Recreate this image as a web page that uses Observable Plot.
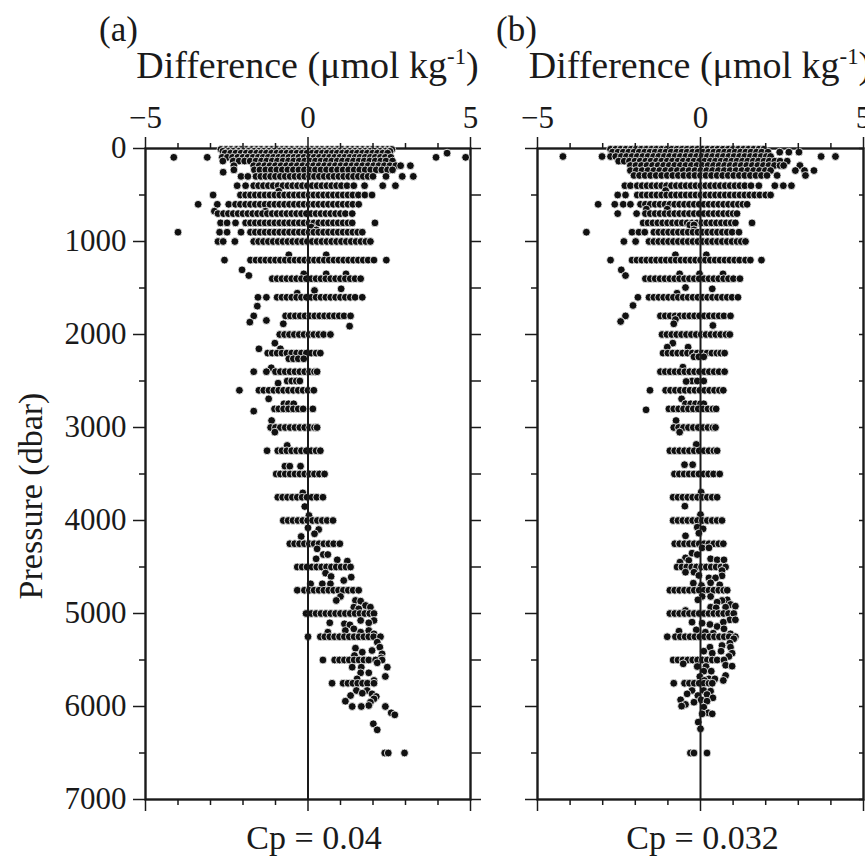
<!DOCTYPE html>
<html>
<head>
<meta charset="utf-8">
<script src="https://cdn.jsdelivr.net/npm/d3@7"></script>
<script src="https://cdn.jsdelivr.net/npm/@observablehq/plot@0.6"></script>
<style>
  body { margin: 0; background: #fff; }
  #wrap { position: relative; width: 865px; height: 857px; overflow: hidden; background: #fff; }
  .svgbox { position: absolute; top: 0; }
  .title { position: absolute; top: 46px; transform: translateX(-50%); white-space: nowrap;
           font-family: "Liberation Serif", "Times New Roman", serif; font-size: 38px; line-height: 38px; color: #1a1a1a; z-index: 2; }
  .title .sup { font-size: 0.6em; position: relative; top: -0.62em; }
</style>
</head>
<body>
<div id="wrap"></div>
<script>
// ---- Axis ticks / labels ----
const xMajor = [-5, 0, 5];
const xMinor = [-4, -3, -2, -1, 1, 2, 3, 4];
const yMajor = [0, 1000, 2000, 3000, 4000, 5000, 6000, 7000];
const yMinor = [500, 1500, 2500, 3500, 4500, 5500, 6500];
const titleText = "Difference (μmol kg";
const titleSup = "-1";
const yLabel = "Pressure (dbar)";
const panelLabels = ["(a)", "(b)"];
const captions = ["Cp = 0.04", "Cp = 0.032"];

// ---- Panel (a): [pressure (dbar), [differences (µmol/kg)]] ----
const panelA = [
  [10, [-2.68,-2.52,-2.37,-2.2,-2.06,-1.9,-1.73,-1.58,-1.44,-1.27,-1.12,-0.96,-0.8,-0.66,-0.5,-0.33,-0.19,-0.03,0.12,0.28,0.43,0.6,0.74,0.9,1.05,1.22,1.37,1.52,1.68,1.84,1.98,2.14,2.3,2.45,2.58]],
  [30, [-2.62,-2.45,-2.3,-2.13,-1.98,-1.83,-1.66,-1.51,-1.36,-1.2,-1.04,-0.88,-0.73,-0.58,-0.41,-0.26,-0.1,0.05,0.2,0.36,0.51,0.67,0.82,0.98,1.13,1.29,1.45,1.6,1.76,1.91,2.06,2.22,2.38,2.52]],
  [50, [-2.55,-2.38,-2.22,-2.06,-1.9,-1.75,-1.58,-1.43,-1.28,-1.12,-0.96,-0.81,-0.65,-0.5,-0.34,-0.18,-0.03,0.13,0.28,0.44,0.59,0.75,0.9,1.06,1.21,1.37,1.52,1.68,1.83,1.99,2.14,2.3,2.45,4.28]],
  [95, [-4.13,-3.1,-2.64,-2.48,-2.32,-2.16,-2.0,-1.85,-1.69,-1.53,-1.38,-1.22,-1.06,-0.9,-0.75,-0.59,-0.43,-0.28,-0.12,0.04,0.19,0.35,0.51,0.66,0.82,0.98,1.13,1.29,1.45,1.6,1.76,1.92,2.07,2.23,2.38,2.55,3.94,4.85]],
  [135, [-2.62,-2.3,-2.12,-1.95,-1.78,-1.6,-1.43,-1.27,-1.1,-0.94,-0.77,-0.6,-0.44,-0.27,-0.1,0.06,0.23,0.4,0.56,0.73,0.9,1.06,1.23,1.4,1.57,1.73,1.9,2.07,2.24,2.4,2.6]],
  [185, [-2.28,-1.67,-1.5,-1.33,-1.17,-1.0,-0.83,-0.66,-0.5,-0.33,-0.16,0.01,0.17,0.34,0.51,0.68,0.84,1.01,1.18,1.35,1.51,1.68,1.85,2.02,2.18,2.35,2.52,2.7,2.85,3.15]],
  [230, [-2.28,-1.65,-1.48,-1.3,-1.13,-0.96,-0.79,-0.62,-0.45,-0.28,-0.11,0.06,0.23,0.4,0.57,0.74,0.91,1.08,1.25,1.42,1.59,1.76,1.93,2.1,2.27,2.45,2.6]],
  [255, [-2.61]],
  [300, [-2.06,-1.85,-1.6,-1.45,-1.3,-1.15,-1.0,-0.85,-0.7,-0.55,-0.4,-0.25,-0.1,0.05,0.2,0.35,0.5,0.65,0.8,0.95,1.1,1.25,1.4,1.55,1.7,1.85,2.0,2.4,2.9,3.24]],
  [400, [-2.18,-1.92,-1.67,-1.52,-1.37,-1.22,-1.07,-0.92,-0.77,-0.62,-0.47,-0.32,-0.17,-0.02,0.13,0.28,0.43,0.58,0.73,0.88,1.03,1.2,1.41,1.74,2.3,2.69]],
  [459, [-0.9]],
  [500, [-2.92,-2.08,-1.92,-1.77,-1.62,-1.47,-1.32,-1.17,-1.02,-0.87,-0.72,-0.57,-0.42,-0.27,-0.12,0.03,0.18,0.33,0.48,0.63,0.78,0.93,1.08,1.23,1.38,1.55,1.75,1.97]],
  [600, [-3.38,-2.79,-2.44,-2.23,-2.08,-1.92,-1.77,-1.62,-1.47,-1.32,-1.17,-1.02,-0.87,-0.72,-0.57,-0.42,-0.27,-0.12,0.03,0.18,0.33,0.48,0.63,0.78,0.93,1.08,1.23,1.38,1.56]],
  [674, [-2.88,-1.31]],
  [700, [-2.77,-2.6,-2.45,-2.3,-2.15,-2.0,-1.85,-1.7,-1.55,-1.4,-1.25,-1.1,-0.95,-0.8,-0.65,-0.5,-0.35,-0.2,-0.05,0.1,0.25,0.4,0.55,0.7,0.85,1.0,1.15,1.36]],
  [800, [-2.69,-2.49,-2.23,-1.92,-1.77,-1.62,-1.47,-1.32,-1.17,-1.02,-0.87,-0.72,-0.57,-0.42,-0.27,-0.12,0.03,0.18,0.33,0.48,0.63,0.78,0.93,1.08,1.23,1.36,2.06]],
  [845, [0.1]],
  [875, [0.26]],
  [900, [-4.0,-2.72,-2.49,-2.06,-1.77,-1.62,-1.47,-1.32,-1.17,-1.02,-0.87,-0.72,-0.57,-0.42,-0.27,-0.12,0.03,0.18,0.33,0.48,0.63,0.78,0.93,1.08,1.23,1.38,1.53,1.67]],
  [1000, [-2.77,-2.61,-2.25,-1.67,-1.52,-1.37,-1.22,-1.07,-0.92,-0.77,-0.62,-0.47,-0.32,-0.17,-0.02,0.13,0.28,0.43,0.58,0.73,0.88,1.03,1.18,1.33,1.48,1.63,1.78,1.92]],
  [1143, [-0.59,0.56]],
  [1200, [-2.57,-1.77,-1.6,-1.45,-1.3,-1.15,-1.0,-0.85,-0.7,-0.55,-0.4,-0.25,-0.1,0.05,0.2,0.35,0.5,0.65,0.8,0.95,1.1,1.25,1.4,1.55,1.7,1.85,2.03,2.41]],
  [1305, [-2.03]],
  [1348, [-0.13,0.56,1.17]],
  [1366, [-1.82]],
  [1400, [-1.1,-0.95,-0.8,-0.65,-0.5,-0.35,-0.2,-0.05,0.1,0.25,0.4,0.55,0.7,0.85,1.0,1.15,1.3,1.45,1.62]],
  [1509, [1.02]],
  [1527, [0.2]],
  [1556, [-0.33]],
  [1600, [-1.54,-1.28,-0.95,-0.8,-0.65,-0.5,-0.35,-0.2,-0.05,0.1,0.25,0.4,0.55,0.7,0.85,1.0,1.15,1.3,1.45,1.67]],
  [1695, [-1.56]],
  [1800, [-1.67,-0.69,-0.54,-0.39,-0.24,-0.09,0.06,0.21,0.36,0.51,0.66,0.81,0.96,1.11,1.31]],
  [1849, [-1.28]],
  [1867, [-1.79]],
  [1885, [-0.76]],
  [1910, [1.28]],
  [2000, [-0.87,-0.72,-0.57,-0.42,-0.27,-0.12,0.03,0.18,0.33,0.48,0.69]],
  [2093, [-1.02]],
  [2154, [-1.51,-0.85]],
  [2200, [-1.24,-1.1,-0.95,-0.8,-0.65,-0.5,-0.35,-0.2,-0.05,0.1,0.25,0.38]],
  [2261, [-0.59,-0.45,-0.3,-0.13]],
  [2358, [-1.13]],
  [2400, [-1.67,-1.28,-1.0,-0.85,-0.7,-0.55,-0.4,-0.25,-0.1,0.05,0.2,0.28]],
  [2500, [-0.64,-0.5,-0.36,-0.25]],
  [2523, [-0.92]],
  [2600, [-2.11,-1.51,-1.36,-1.2,-1.05,-0.9,-0.75,-0.6,-0.45,-0.3,-0.15,0.0,0.18]],
  [2692, [-1.21]],
  [2745, [-0.74,-0.6,-0.44]],
  [2800, [-1.03,-0.9,-0.75,-0.6,-0.45,-0.3,-0.15,0.15]],
  [2824, [-1.67]],
  [2925, [-1.12]],
  [3000, [-1.15,-1.0,-0.85,-0.7,-0.55,-0.4,-0.25,-0.1,0.05,0.2,0.28]],
  [3050, [-1.02]],
  [3193, [-0.64]],
  [3250, [-1.26,-0.93,-0.8,-0.65,-0.5,-0.35,-0.2,-0.05,0.1,0.25,0.38]],
  [3416, [-0.71,-0.56,-0.23]],
  [3500, [-0.98,-0.85,-0.7,-0.55,-0.4,-0.25,-0.1,0.05,0.2,0.35,0.51]],
  [3703, [-0.16]],
  [3750, [-0.93,-0.78,-0.63,-0.48,-0.33,-0.18,-0.03,0.12,0.27,0.46]],
  [3850, [-0.1]],
  [3946, [0.03]],
  [4000, [-0.76,-0.61,-0.46,-0.31,-0.16,-0.01,0.14,0.29,0.44,0.59,0.77]],
  [4079, [0.0]],
  [4097, [0.33]],
  [4143, [0.2]],
  [4172, [-0.21]],
  [4250, [-0.56,-0.41,-0.26,-0.11,0.04,0.19,0.34,0.49,0.64,0.79,0.98]],
  [4305, [0.28]],
  [4366, [0.47,0.61]],
  [4412, [0.25]],
  [4423, [0.9]],
  [4437, [1.21]],
  [4500, [-0.33,-0.18,-0.03,0.12,0.27,0.42,0.57,0.72,0.87,1.02,1.17,1.31]],
  [4566, [0.54]],
  [4602, [0.71]],
  [4609, [1.33]],
  [4645, [1.1]],
  [4681, [0.08,0.44,0.69]],
  [4750, [-0.33,-0.11,0.04,0.19,0.34,0.49,0.64,0.79,0.94,1.09,1.24,1.39,1.56]],
  [4817, [1.0]],
  [4860, [0.87,1.46]],
  [4867, [1.62]],
  [4914, [1.77]],
  [4932, [1.41,1.92]],
  [4950, [1.56]],
  [5000, [-0.06,0.1,0.25,0.4,0.55,0.7,0.85,1.0,1.15,1.3,1.45,1.6,1.75,1.9,2.03]],
  [5075, [1.62,2.03]],
  [5100, [0.67,1.87]],
  [5111, [1.12]],
  [5122, [1.29]],
  [5165, [1.41]],
  [5183, [1.15,1.87]],
  [5201, [0.61,1.62]],
  [5219, [2.03]],
  [5250, [0.0,0.38,0.52,0.67,0.82,0.97,1.12,1.27,1.42,1.57,1.72,1.87,2.02,2.23]],
  [5308, [2.13]],
  [5362, [2.21]],
  [5373, [1.46]],
  [5398, [1.97]],
  [5416, [1.67]],
  [5434, [2.28]],
  [5452, [1.43]],
  [5477, [2.25]],
  [5500, [0.46,0.82,0.97,1.12,1.27,1.42,1.57,1.72,1.87,2.08,2.28]],
  [5530, [2.13]],
  [5577, [1.36,1.64,2.44]],
  [5638, [1.62,1.87]],
  [5677, [2.38]],
  [5703, [1.51]],
  [5720, [2.03]],
  [5750, [0.74,1.08,1.23,1.38,1.53,1.68,1.83,2.03]],
  [5828, [1.49,1.82]],
  [5857, [1.67]],
  [5864, [1.97]],
  [5882, [1.31]],
  [5893, [2.1]],
  [5918, [2.03]],
  [5943, [1.15]],
  [5954, [1.92]],
  [5989, [1.87]],
  [6000, [1.36,1.64,2.38]],
  [6068, [2.56]],
  [6090, [2.67]],
  [6186, [2.01]],
  [6251, [2.13]],
  [6500, [2.36,2.47,2.97]]
];

// ---- Panel (b): [pressure (dbar), [differences (µmol/kg)]] ----
const panelB = [
  [8, [-2.76,-2.6,-2.45,-2.29,-2.13,-1.98,-1.82,-1.66,-1.5,-1.35,-1.19,-1.03,-0.88,-0.72,-0.56,-0.41,-0.25,-0.09,0.06,0.22,0.38,0.53,0.69,0.85,1.0,1.16,1.32,1.47,1.63,1.79,1.94]],
  [39, [-2.7,-2.53,-2.37,-2.2,-2.04,-1.88,-1.71,-1.55,-1.39,-1.22,-1.06,-0.9,-0.73,-0.57,-0.41,-0.24,-0.08,0.08,0.25,0.41,0.57,0.74,0.9,1.06,1.23,1.39,1.55,1.72,1.88,2.07,2.43,2.71,3.02]],
  [86, [-4.22,-3.02,-2.76,-2.6,-2.43,-2.27,-2.1,-1.94,-1.77,-1.61,-1.44,-1.28,-1.11,-0.95,-0.78,-0.62,-0.45,-0.29,-0.12,0.04,0.21,0.37,0.54,0.7,0.87,1.03,1.2,1.36,1.53,1.69,1.86,2.02,2.15,3.7,4.14]],
  [136, [-2.51,-2.34,-2.18,-2.01,-1.85,-1.68,-1.52,-1.35,-1.19,-1.02,-0.86,-0.69,-0.53,-0.36,-0.2,-0.03,0.13,0.3,0.46,0.63,0.79,0.96,1.12,1.29,1.45,1.62,1.78,1.95,2.11,2.28,2.44,2.66]],
  [183, [-2.15,-1.98,-1.81,-1.64,-1.47,-1.3,-1.13,-0.96,-0.79,-0.62,-0.45,-0.28,-0.11,0.06,0.23,0.4,0.57,0.74,0.91,1.08,1.25,1.42,1.59,1.76,1.93,2.1,2.27,2.44,2.55,3.05]],
  [237, [-2.15,-1.97,-1.79,-1.61,-1.43,-1.25,-1.07,-0.89,-0.71,-0.53,-0.35,-0.17,0.01,0.19,0.37,0.55,0.73,0.91,1.09,1.27,1.45,1.63,1.81,1.99,2.15,2.91,3.19,3.48]],
  [290, [-2.04,-1.87,-1.7,-1.53,-1.36,-1.19,-1.02,-0.85,-0.68,-0.51,-0.34,-0.17,0.0,0.17,0.34,0.51,0.68,0.85,1.02,1.19,1.36,1.53,1.7,1.87,2.04,2.35,3.22]],
  [400, [-2.32,-2.15,-1.94,-1.79,-1.64,-1.49,-1.34,-1.19,-1.04,-0.89,-0.74,-0.59,-0.44,-0.29,-0.14,0.01,0.16,0.31,0.46,0.61,0.76,0.91,1.06,1.21,1.36,1.55,1.79,2.28,2.54,2.79]],
  [452, [-1.07]],
  [500, [-2.54,-2.3,-1.94,-1.79,-1.64,-1.49,-1.34,-1.19,-1.04,-0.89,-0.74,-0.59,-0.44,-0.29,-0.14,0.01,0.16,0.31,0.46,0.61,0.76,0.91,1.06,1.21,1.36,1.51,1.66,1.82,2.0,2.15]],
  [600, [-3.14,-2.63,-2.37,-2.15,-1.84,-1.69,-1.54,-1.39,-1.24,-1.09,-0.94,-0.79,-0.64,-0.49,-0.34,-0.19,-0.04,0.11,0.26,0.41,0.56,0.71,0.86,1.01,1.16,1.3,1.43]],
  [652, [-1.66,-1.02]],
  [700, [-2.54,-1.96,-1.69,-1.54,-1.39,-1.24,-1.09,-0.94,-0.79,-0.64,-0.49,-0.34,-0.19,-0.04,0.11,0.26,0.41,0.56,0.71,0.86,1.0,1.12]],
  [800, [-1.76,-1.61,-1.46,-1.31,-1.16,-1.01,-0.86,-0.71,-0.56,-0.41,-0.26,-0.11,0.04,0.19,0.34,0.49,0.64,0.79,0.94,1.07,1.58]],
  [822, [-0.33,-0.2]],
  [874, [-0.2]],
  [900, [-3.5,-2.1,-1.89,-1.71,-1.43,-1.28,-1.13,-0.98,-0.83,-0.68,-0.53,-0.38,-0.23,-0.08,0.07,0.22,0.37,0.52,0.67,0.82,0.97,1.18]],
  [1000, [-2.35,-1.99,-1.58,-1.43,-1.28,-1.13,-0.98,-0.83,-0.68,-0.53,-0.38,-0.23,-0.08,0.07,0.22,0.37,0.52,0.67,0.82,0.97,1.12,1.25,1.38]],
  [1143, [-0.77,0.18]],
  [1200, [-2.76,-2.1,-1.95,-1.8,-1.65,-1.5,-1.35,-1.2,-1.05,-0.9,-0.75,-0.6,-0.45,-0.3,-0.15,0.0,0.15,0.3,0.45,0.6,0.75,0.9,1.05,1.2,1.38,1.53,1.87]],
  [1305, [-2.43]],
  [1348, [-0.64,-0.03,0.69]],
  [1366, [-2.3]],
  [1400, [-1.69,-1.54,-1.39,-1.24,-1.09,-0.94,-0.79,-0.64,-0.49,-0.34,-0.19,-0.04,0.11,0.26,0.41,0.56,0.71,0.86,1.01,1.21]],
  [1495, [-0.46]],
  [1509, [0.36]],
  [1556, [-0.72]],
  [1600, [-1.92,-1.58,-1.43,-1.28,-1.13,-0.98,-0.83,-0.68,-0.53,-0.38,-0.23,-0.08,0.07,0.22,0.37,0.52,0.67,0.82,0.97,1.15]],
  [1688, [-2.07]],
  [1800, [-2.3,-1.23,-1.08,-0.93,-0.78,-0.63,-0.48,-0.33,-0.18,-0.03,0.12,0.27,0.42,0.57,0.72,0.92]],
  [1839, [-0.77]],
  [1860, [-2.45]],
  [1885, [-0.82]],
  [1903, [0.38]],
  [2000, [-1.18,-1.03,-0.88,-0.73,-0.58,-0.43,-0.28,-0.13,0.02,0.17,0.32,0.47,0.62,0.78,0.9]],
  [2093, [-0.85]],
  [2136, [-1.02,-0.38]],
  [2200, [-1.15,-1.0,-0.85,-0.7,-0.55,-0.4,-0.25,-0.1,0.05,0.2,0.35,0.5,0.62,0.74]],
  [2240, [-0.2,-0.05,0.1]],
  [2351, [-0.54]],
  [2400, [-1.23,-1.08,-0.93,-0.78,-0.63,-0.48,-0.33,-0.18,-0.03,0.12,0.27,0.42,0.57,0.74]],
  [2500, [-0.26,-0.1,0.1]],
  [2505, [-0.44]],
  [2600, [-1.55,-1.07,-0.92,-0.77,-0.62,-0.47,-0.32,-0.17,-0.02,0.13,0.28,0.43,0.58,0.7]],
  [2692, [-0.58]],
  [2745, [-0.46,-0.3,-0.15,0.0,0.1]],
  [2800, [-0.97,-0.82,-0.67,-0.52,-0.37,-0.22,-0.07,0.08,0.23,0.38,0.48]],
  [2810, [-1.67]],
  [2925, [-0.75]],
  [3000, [-0.82,-0.67,-0.52,-0.37,-0.22,-0.07,0.08,0.23,0.38,0.46]],
  [3050, [-0.64]],
  [3182, [-0.13]],
  [3250, [-0.94,-0.79,-0.64,-0.49,-0.34,-0.19,-0.04,0.11,0.26,0.41,0.51]],
  [3400, [-0.49,-0.24]],
  [3500, [-0.8,-0.65,-0.5,-0.35,-0.2,-0.05,0.1,0.25,0.4,0.59]],
  [3695, [0.02]],
  [3750, [-0.84,-0.69,-0.54,-0.39,-0.24,-0.09,0.06,0.21,0.36,0.51]],
  [3846, [-0.48]],
  [3936, [0.0]],
  [4000, [-0.84,-0.69,-0.54,-0.39,-0.24,-0.09,0.06,0.21,0.36,0.51,0.66]],
  [4072, [-0.1]],
  [4090, [0.08]],
  [4136, [-0.05]],
  [4165, [-0.46]],
  [4250, [-0.79,-0.64,-0.49,-0.34,-0.19,-0.04,0.11,0.26,0.41,0.56,0.7]],
  [4294, [0.05,0.26]],
  [4351, [-0.26]],
  [4366, [-0.1]],
  [4402, [-0.46]],
  [4412, [0.31]],
  [4423, [0.51,0.72]],
  [4430, [-0.36]],
  [4448, [-0.63]],
  [4500, [-0.72,-0.57,-0.42,-0.27,-0.12,0.03,0.18,0.33,0.48,0.63,0.77]],
  [4538, [0.66]],
  [4556, [-0.46,-0.2]],
  [4591, [-0.05]],
  [4595, [0.66]],
  [4617, [0.26,0.46]],
  [4670, [0.31]],
  [4674, [-0.22]],
  [4692, [0.59]],
  [4699, [0.03]],
  [4750, [-0.94,-0.79,-0.64,-0.49,-0.34,-0.19,-0.04,0.11,0.26,0.41,0.56,0.71,0.82]],
  [4817, [0.05,0.31]],
  [4853, [-0.08,0.82]],
  [4860, [0.66]],
  [4878, [0.51]],
  [4903, [0.92]],
  [4921, [1.07]],
  [4932, [0.31,0.77]],
  [4939, [0.48]],
  [4968, [-0.46]],
  [5000, [-0.94,-0.79,-0.64,-0.49,-0.34,-0.19,-0.04,0.11,0.26,0.41,0.56,0.71,0.86,1.02]],
  [5068, [0.9,1.07]],
  [5093, [-0.26,0.7]],
  [5104, [0.05]],
  [5118, [0.29]],
  [5140, [0.51]],
  [5165, [0.72]],
  [5176, [-0.13]],
  [5190, [-0.66]],
  [5201, [0.15]],
  [5212, [0.39]],
  [5219, [0.92]],
  [5250, [-1.02,-0.77,-0.62,-0.47,-0.32,-0.17,-0.02,0.13,0.28,0.43,0.58,0.73,0.88,1.07]],
  [5272, [1.02]],
  [5319, [0.9]],
  [5344, [0.66]],
  [5362, [0.29,0.92]],
  [5405, [0.1,0.63]],
  [5427, [0.36,0.97]],
  [5462, [0.87]],
  [5500, [-0.84,-0.69,-0.54,-0.39,-0.24,-0.09,0.06,0.21,0.36,0.51,0.72]],
  [5541, [-0.53]],
  [5556, [0.77]],
  [5566, [0.97]],
  [5570, [-0.1,0.17]],
  [5620, [0.1,0.33]],
  [5667, [0.77]],
  [5678, [-0.02]],
  [5703, [0.26,0.44]],
  [5720, [0.12,0.7]],
  [5750, [-0.82,-0.49,-0.34,-0.19,-0.04,0.11,0.26,0.36]],
  [5828, [-0.26,0.1]],
  [5835, [0.31]],
  [5864, [-0.41]],
  [5871, [0.2]],
  [5882, [-0.08]],
  [5907, [0.38]],
  [5928, [-0.61,0.02]],
  [5943, [0.2]],
  [5954, [-0.2]],
  [5978, [-0.46]],
  [5996, [-0.58]],
  [6007, [0.1]],
  [6068, [0.24]],
  [6079, [0.05,0.36]],
  [6168, [-0.07]],
  [6240, [0.0]],
  [6500, [-0.31,-0.2,0.2]]
];

// ---- Rendering ----
const FONT = "'Liberation Serif', 'Times New Roman', serif";
const INK = "#1a1a1a";
const fmtX = d => (d < 0 ? "\u2212" + Math.abs(d) : String(d));
const fmtY = d => String(d);
const toPoints = rows => rows.flatMap(([p, xs]) => xs.map(x => ({p, x})));

function panel(rows, opts) {
  const pts = toPoints(rows);
  const marks = [
    Plot.frame({stroke: INK, strokeWidth: 2.4}),
    Plot.dot(pts, {x: "x", y: "p", r: 3.9, fill: "#111", stroke: "white", strokeWidth: 0.8}),
    Plot.ruleX([0], {stroke: INK, strokeWidth: 2}),
    Plot.axisX(xMajor, {anchor: "top", tickSize: 12, tickPadding: 9, tickFormat: fmtX, label: null, fontSize: 31, strokeWidth: 1.5, stroke: INK, fill: INK}),
    Plot.axisX(xMinor, {anchor: "top", tickSize: 6, fill: "none", label: null, strokeWidth: 1.5, stroke: INK}),
    Plot.axisX(xMajor, {anchor: "bottom", tickSize: 12, fill: "none", label: null, strokeWidth: 1.5, stroke: INK}),
    Plot.axisX(xMinor, {anchor: "bottom", tickSize: 6, fill: "none", label: null, strokeWidth: 1.5, stroke: INK}),
    Plot.axisY(yMajor, {anchor: "left", tickSize: 12, tickPadding: 7, tickFormat: fmtY, label: null, fontSize: 31, strokeWidth: 1.5, stroke: INK, fill: opts.showY ? INK : "none"}),
    Plot.axisY(yMinor, {anchor: "left", tickSize: 6, fill: "none", label: null, strokeWidth: 1.5, stroke: INK}),
    Plot.axisY(yMajor.concat(yMinor), {anchor: "right", tickSize: opts.rightTick, fill: "none", label: null, strokeWidth: 1.5, stroke: INK}),
    Plot.text([opts.tag], {frameAnchor: "top-left", text: d => d, textAnchor: "middle", lineAnchor: "middle", dx: opts.tagDx, dy: -119, fontSize: 35, fill: INK}),
    Plot.text([opts.caption], {frameAnchor: "bottom", text: d => d, textAnchor: "middle", lineAnchor: "middle", dx: opts.capDx, dy: 39, fontSize: 34, fill: INK})
  ];
  if (opts.showY) {
    marks.push(Plot.text([yLabel], {frameAnchor: "left", text: d => d, rotate: -90, textAnchor: "middle", lineAnchor: "middle", dx: -114, dy: 22, fontSize: 34, fill: INK}));
  }
  return Plot.plot({
    width: opts.width, height: 857,
    marginTop: 148, marginBottom: 58, marginLeft: opts.marginLeft, marginRight: opts.marginRight,
    style: {fontFamily: FONT, color: INK, background: "transparent", overflow: "visible"},
    x: {domain: [-5, 5]},
    y: {domain: [0, 7000], reverse: true},
    marks
  });
}

const wrap = document.getElementById("wrap");
const specs = [
  {rows: panelA, left: 0, width: 485, marginLeft: 145, marginRight: 15, showY: true, rightTick: 10, tag: panelLabels[0], tagDx: -27, caption: captions[0], capDx: 6, center: 307.5},
  {rows: panelB, left: 485, width: 380, marginLeft: 52, marginRight: 2, showY: false, rightTick: -5, tag: panelLabels[1], tagDx: -21, caption: captions[1], capDx: 2, center: 700}
];
for (const s of specs) {
  const box = document.createElement("div");
  box.className = "svgbox";
  box.style.left = s.left + "px";
  box.appendChild(panel(s.rows, s));
  wrap.appendChild(box);
  const t = document.createElement("div");
  t.className = "title";
  t.style.left = s.center + "px";
  t.innerHTML = titleText + '<span class="sup">' + titleSup + "</span>)";
  wrap.appendChild(t);
}
</script>
</body>
</html>
